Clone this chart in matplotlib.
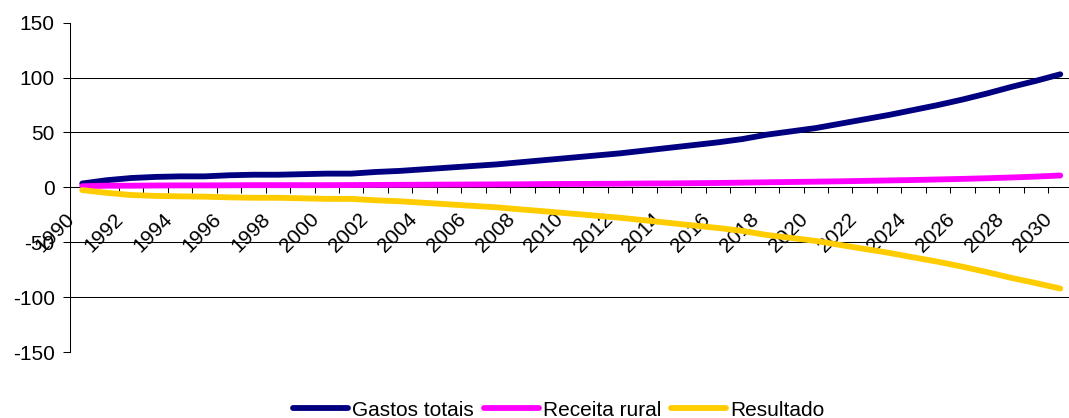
import matplotlib
matplotlib.use("Agg")
import matplotlib.pyplot as plt
import matplotlib.transforms as mtransforms
import numpy as np

plt.rcParams['font.family'] = ['Liberation Sans', 'DejaVu Sans']

years = list(range(1990, 2031))
gastos_totais = [3.5, 6.5, 8.5, 9.5, 10.0, 10.0, 11.0, 11.5, 11.5, 12.0,
                 12.5, 12.5, 14.0, 15.0, 16.5, 18.0, 19.5, 21.0, 23.0, 25.0,
                 27.0, 29.0, 31.0, 33.5, 36.0, 38.5, 41.0, 44.0, 48.0, 51.0,
                 54.0, 58.0, 62.0, 66.0, 70.5, 75.0, 80.0, 85.5, 91.5, 97.0,
                 103.0]
receita_rural = [1.0, 1.5, 1.5, 1.7, 1.8, 1.8, 1.9, 2.0, 2.0, 2.0,
                 2.0, 2.1, 2.2, 2.3, 2.4, 2.5, 2.6, 2.7, 2.8, 3.0,
                 3.1, 3.2, 3.3, 3.5, 3.6, 3.8, 4.0, 4.3, 4.6, 4.9,
                 5.2, 5.5, 5.9, 6.3, 6.7, 7.2, 7.7, 8.3, 9.0, 9.8,
                 10.8]
resultado = [-2.5, -5.0, -7.0, -7.8, -8.2, -8.5, -9.1, -9.5, -9.5, -10.0,
             -10.5, -10.5, -11.8, -12.7, -14.1, -15.5, -16.9, -18.3, -20.2, -22.0,
             -23.9, -25.8, -27.7, -30.0, -32.4, -34.7, -37.0, -39.7, -43.4, -46.1,
             -48.8, -52.5, -56.1, -59.7, -63.8, -67.8, -72.3, -77.2, -82.5, -87.2,
             -92.2]
series_names = ["Gastos totais", "Receita rural", "Resultado"]
series_colors = ["#000080", "#FF00FF", "#FFCC00"]
y_ticks = [-150, -100, -50, 0, 50, 100, 150]

W, H = 1069, 418
fig = plt.figure(figsize=(W / 100, H / 100), dpi=100)
ax_left, ax_right = 70, 1072.5
ax_top, ax_bottom = 22.7, 352
ax = fig.add_axes([ax_left / W, 1 - ax_bottom / H, (ax_right - ax_left) / W, (ax_bottom - ax_top) / H])

x = np.arange(len(years))
for vals, name, col in zip([gastos_totais, receita_rural, resultado], series_names, series_colors):
    ax.plot(x, vals, color=col, lw=4.2, label=name, solid_capstyle='round',
            solid_joinstyle='round', zorder=3)

ax.set_xlim(-0.5, len(years) - 0.5)
ax.set_ylim(-150, 150)

# gridlines
for yv in y_ticks:
    if yv not in (0, 150, -150):
        ax.axhline(yv, color='black', lw=0.75, zorder=1)

for s in ['top', 'right']:
    ax.spines[s].set_visible(False)
ax.spines['left'].set_linewidth(0.75)
ax.spines['bottom'].set_position(('data', 0))
ax.spines['bottom'].set_linewidth(0.75)

ax.set_yticks(y_ticks)
ax.set_yticklabels([str(v) for v in y_ticks])
ax.tick_params(axis='y', direction='out', length=5, width=0.75, pad=6, labelsize=15)

ax.set_xticks(x[::2])
ax.set_xticklabels([str(y) for y in years[::2]], rotation=45, ha='right', va='top')
ax.set_xticks(np.arange(len(years)) + 0.5, minor=True)
ax.tick_params(axis='x', which='major', length=0, pad=16, labelsize=15)
ax.tick_params(axis='x', which='minor', direction='out', length=4.5, width=0.75)
shift = mtransforms.ScaledTranslation(-4 / 100, 0, fig.dpi_scale_trans)
for lbl in ax.get_xticklabels():
    lbl.set_transform(lbl.get_transform() + shift)

leg = fig.legend(loc='center', bbox_to_anchor=(558.5 / W, 1 - 410 / H), ncol=3,
                 frameon=False, fontsize=15, handlelength=2.64, handletextpad=0.19,
                 columnspacing=0.48, borderaxespad=0, borderpad=0)

fig.savefig('out.png', dpi=100)
